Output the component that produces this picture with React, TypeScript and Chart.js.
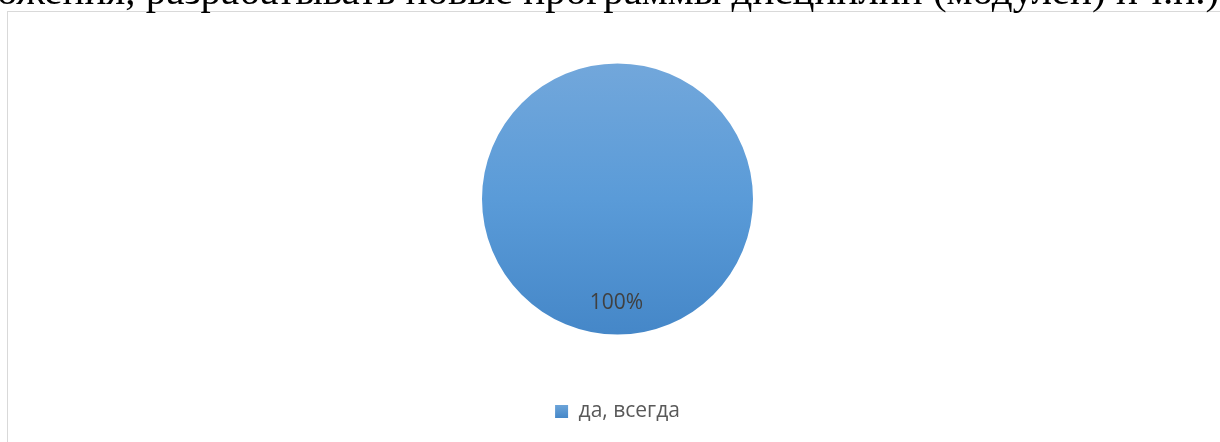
import React, { useEffect, useRef } from "react";
import { Chart, registerables } from "chart.js";

Chart.register(...registerables);

const categories: string[] = ["да, всегда"];
const seriesValues: number[] = [100];
const dataLabels: string[] = ["100%"];
const headingText = "ожения, разрабатывать новые программы дисциплин (модулей) и т.п.)";

const labelPlugin = {
  id: "pieLabels",
  afterDatasetsDraw(chart: any) {
    const meta = chart.getDatasetMeta(0);
    const ctx = chart.ctx;
    ctx.save();
    ctx.font = '21px "Open Sans"';
    ctx.fillStyle = "#404040";
    ctx.textAlign = "center";
    ctx.textBaseline = "middle";
    meta.data.forEach((arc: any, i: number) => {
      const p = arc.getProps(["x", "y", "startAngle", "endAngle", "outerRadius"], true);
      const mid = (p.startAngle + p.endAngle) / 2;
      const r = p.outerRadius * 0.75;
      ctx.fillText(dataLabels[i], p.x + Math.cos(mid) * r - 1, p.y + Math.sin(mid) * r + 2);
    });
    ctx.restore();
  },
};

function makeGradient(ctx: CanvasRenderingContext2D, y0: number, y1: number) {
  const g = ctx.createLinearGradient(0, y0, 0, y1);
  g.addColorStop(0, "#72A7DB");
  g.addColorStop(0.5, "#5A9BD8");
  g.addColorStop(1, "#4587C8");
  return g;
}

export default function App() {
  const canvasRef = useRef<HTMLCanvasElement | null>(null);

  useEffect(() => {
    const canvas = canvasRef.current;
    if (!canvas) return;
    const chart = new Chart(canvas, {
      type: "pie",
      data: {
        labels: categories,
        datasets: [
          {
            data: seriesValues,
            radius: 135.5,
            borderWidth: 0,
            backgroundColor: (c: any) => {
              const ch = c.chart;
              const area = ch.chartArea;
              if (!area) return "#5B9BD5";
              const cy = (area.top + area.bottom) / 2;
              return makeGradient(ch.ctx, cy - 135.5, cy + 135.5);
            },
          },
        ],
      },
      options: {
        animation: false,
        responsive: false,
        maintainAspectRatio: false,
        devicePixelRatio: 1,
        layout: { padding: { top: 7, left: 15, right: 0, bottom: 10 } },
        plugins: {
          tooltip: { enabled: false },
          legend: {
            position: "bottom",
            labels: {
              boxWidth: 13,
              boxHeight: 13,
              padding: 10,
              color: "#595959",
              font: { family: "Open Sans", size: 21 },
              generateLabels: (ch: any) => {
                const g = ch.ctx.createLinearGradient(0, 404, 0, 418);
                g.addColorStop(0, "#6FA6DA");
                g.addColorStop(1, "#4587C8");
                return categories.map((t, i) => ({
                  text: t,
                  fillStyle: g,
                  strokeStyle: g,
                  lineWidth: 0,
                  hidden: false,
                  index: i,
                  fontColor: "#595959",
                }));
              },
            },
          },
        },
      },
      plugins: [labelPlugin],
    });
    return () => chart.destroy();
  }, []);

  return (
    <div
      style={{
        position: "fixed",
        left: 0,
        top: 0,
        width: 1220,
        height: 442,
        overflow: "hidden",
        background: "#ffffff",
      }}
    >
      <div
        style={{
          position: "absolute",
          left: 7,
          top: 11,
          width: 1213,
          height: 431,
          borderTop: "1px solid #D9D9D9",
          borderLeft: "1px solid #D9D9D9",
          boxSizing: "border-box",
        }}
      />
      <canvas
        ref={canvasRef}
        width={1220}
        height={442}
        style={{ position: "absolute", left: 0, top: 0, width: 1220, height: 442 }}
      />
      <div
        style={{
          position: "absolute",
          left: -3,
          top: -30,
          whiteSpace: "nowrap",
          fontFamily: '"Liberation Serif", "Times New Roman", serif',
          fontSize: 41,
          lineHeight: "41px",
          color: "#000000",
        }}
      >
        {headingText}
      </div>
    </div>
  );
}
